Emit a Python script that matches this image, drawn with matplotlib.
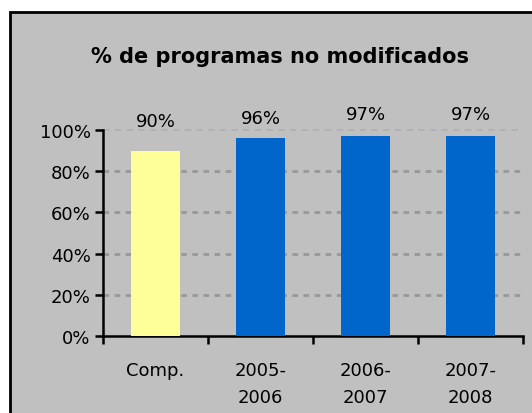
#!/usr/bin/env python
"""Bar chart: % de programas no modificados."""

# Third party modules.
import matplotlib
matplotlib.use("Agg")
import matplotlib.pyplot as plt
from matplotlib.patches import Rectangle

# Globals and constants variables.
categories = ["Comp.", "2005-\n2006", "2006-\n2007", "2007-\n2008"]
values = [0.90, 0.96, 0.97, 0.97]
value_labels = ["90%", "96%", "97%", "97%"]
bar_colors = ["#ffff99", "#0066cc", "#0066cc", "#0066cc"]
yticks = [0.0, 0.2, 0.4, 0.6, 0.8, 1.0]
ytick_labels = ["0%", "20%", "40%", "60%", "80%", "100%"]
title = "% de programas no modificados"

# label heights (axes fraction) as placed in the original chart
label_y = [1.045, 1.058, 1.078, 1.078]

W, H = 532, 414
plt.rcParams["font.family"] = ["DejaVu Sans"]

fig = plt.figure(figsize=(W/100, H/100), dpi=100)
fig.patch.set_facecolor("white")

# gray chart area with black frame (left/top edges visible)
frame = Rectangle((10/W, -0.05), 1.1, (H - 13)/H + 0.05, transform=fig.transFigure,
                  facecolor="#c0c0c0", edgecolor="black", linewidth=2.0, zorder=-10)
fig.patches.append(frame)

ax = fig.add_axes([103/W, 1 - 337/H, (523 - 103)/W, (337 - 131)/H])
ax.patch.set_visible(False)

x = list(range(len(categories)))
ax.bar(x, values, width=0.47, color=bar_colors, zorder=3)

ax.set_xlim(-0.5, len(categories) - 0.5)
ax.set_ylim(0, 1.0)

# dashed gridlines
for yv in yticks[1:-1]:
    ax.axhline(yv, color="#989898", linestyle=(0, (2, 2)), linewidth=2.0, zorder=1)
ax.axhline(1.0, color="#b0b0b0", linestyle=(0, (4, 3)), linewidth=1.2, zorder=1,
           clip_on=False)

for xi, yl, txt in zip(x, label_y, value_labels):
    ax.text(xi, yl, txt, transform=ax.get_xaxis_transform(), ha="center", va="center",
            fontsize=13, color="black", clip_on=False)

ax.set_yticks(yticks)
ax.set_yticklabels(ytick_labels, fontsize=13)
ax.set_xticks([i - 0.5 for i in range(len(categories) + 1)])
ax.set_xticklabels([])
ax.set_xticks(x, minor=True)
ax.set_xticklabels(categories, minor=True, fontsize=13, linespacing=1.65)
ax.tick_params(axis="x", which="minor", length=0, pad=18)
ax.tick_params(axis="x", which="major", direction="out", length=6, width=1.8)
ax.tick_params(axis="y", direction="out", length=6, width=1.8, pad=3)

for side in ["top", "right"]:
    ax.spines[side].set_visible(False)
for side in ["left", "bottom"]:
    ax.spines[side].set_linewidth(1.8)

fig.text(280/W, 1 - 57/H, title, ha="center", va="center", fontsize=15,
         fontweight="bold")

fig.savefig("out.png", dpi=100)
